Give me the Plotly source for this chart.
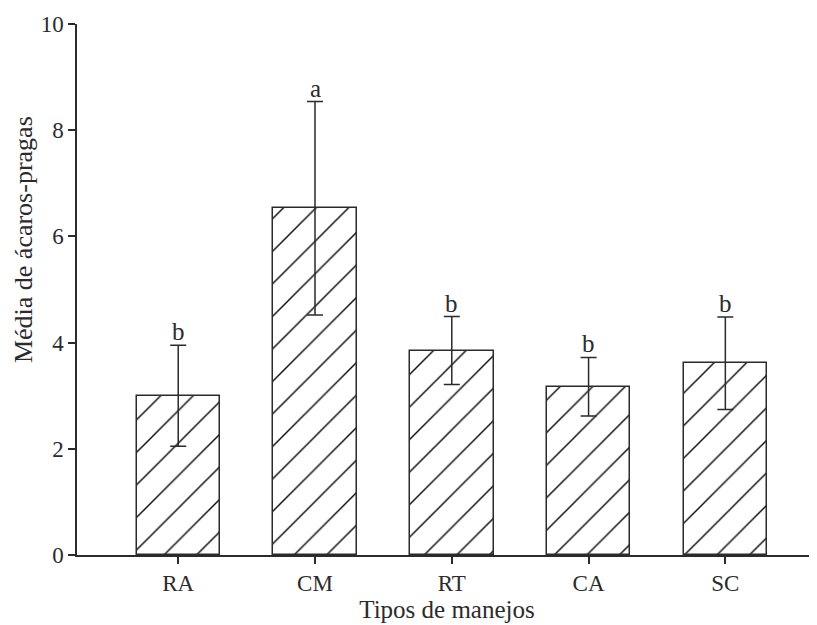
import plotly.graph_objects as go

categories = ["RA", "CM", "RT", "CA", "SC"]
means = [3.0, 6.53, 3.85, 3.17, 3.61]
errors = [0.95, 2.01, 0.64, 0.55, 0.87]
letters = ["b", "a", "b", "b", "b"]
y_ticks = [0, 2, 4, 6, 8, 10]

xpos = list(range(len(categories)))
FONT = "Liberation Serif, Times New Roman, serif"
INK = "#2b2b2b"

fig = go.Figure()
fig.add_trace(go.Bar(
    x=xpos, y=means, width=0.61,
    marker=dict(color="white",
                line=dict(color=INK, width=1.5),
                pattern=dict(shape="/", size=23, solidity=0.065, fgcolor="#111111",
                             bgcolor="white", fgopacity=1)),
    error_y=dict(type="data", array=errors, visible=True, color=INK, thickness=1.5, width=8),
    showlegend=False,
))

for xi, m, e, l in zip(xpos, means, errors, letters):
    fig.add_annotation(x=xi, y=m + e, text=l, showarrow=False, yanchor="bottom",
                       yshift=-2, font=dict(family=FONT, size=25, color=INK))

# y-axis title as a rotated annotation (placed like the reference, above centre)
fig.add_annotation(text="Média de ácaros-pragas", xref="paper", yref="paper",
                   x=0, y=0.593, xanchor="center", yanchor="middle", xshift=-54,
                   textangle=-90, showarrow=False,
                   font=dict(family=FONT, size=26, color=INK))

fig.update_layout(
    width=809, height=617,
    margin=dict(l=69, r=0, t=16, b=70),
    paper_bgcolor="white", plot_bgcolor="white",
    font=dict(family=FONT, size=23, color=INK),
    bargap=0,
)
fig.update_xaxes(
    range=[-0.74, 4.67], tickvals=xpos, ticktext=categories,
    showline=True, linecolor=INK, linewidth=1.5, ticks="outside", ticklen=7, tickcolor=INK,
    tickwidth=1.5, showgrid=False, zeroline=False,
    title=dict(text="Tipos de manejos", font=dict(family=FONT, size=25), standoff=4),
    tickfont=dict(family=FONT, size=23),
)
fig.update_yaxes(
    range=[0, 10], tickvals=y_ticks,
    showline=True, linecolor=INK, linewidth=1.5, ticks="outside", ticklen=7, tickcolor=INK,
    tickwidth=1.5, showgrid=False, zeroline=False,
    tickfont=dict(family=FONT, size=23),
)

fig.write_html("out.html")
